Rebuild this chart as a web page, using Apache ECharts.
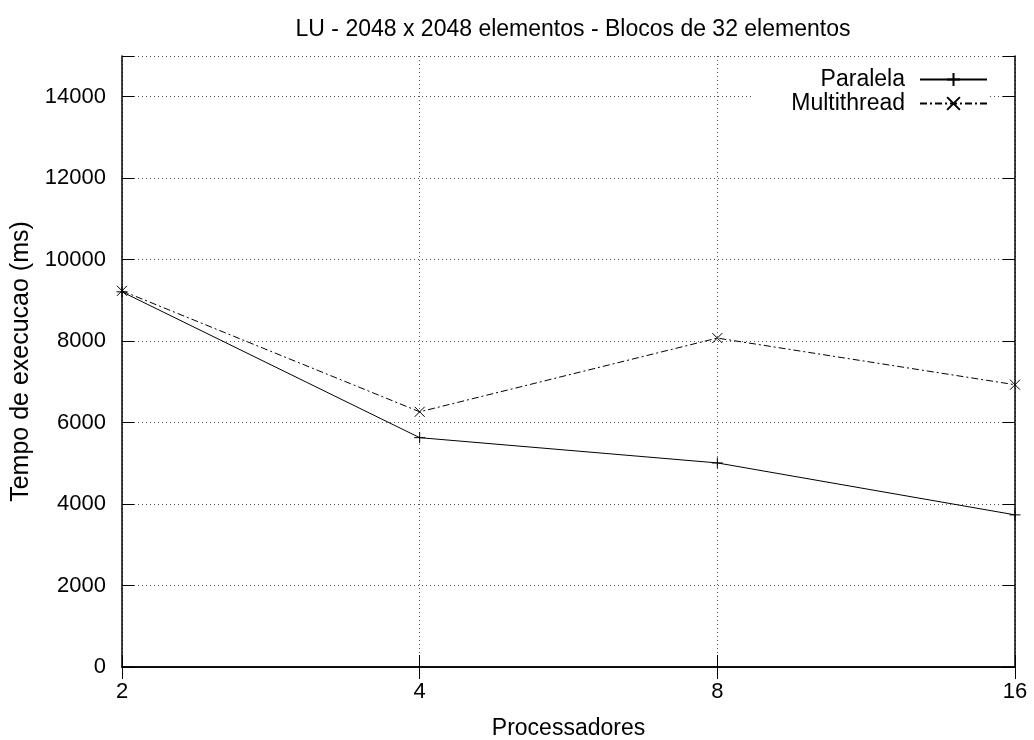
<!DOCTYPE html>
<html>
<head>
<meta charset="utf-8">
<script src="https://cdn.jsdelivr.net/npm/echarts@6/dist/echarts.min.js"></script>
<style>
  html, body { margin: 0; padding: 0; background: #fff; }
  #chart { width: 1034px; height: 740px; }
</style>
</head>
<body>
<div id="chart"></div>
<script>
// Processor counts on the x axis
const processadores = ['2', '4', '8', '16'];
// Execution times (ms)
const paralela = [9210, 5630, 5010, 3735];
const multithread = [9235, 6265, 8075, 6930];

const FONT = 'Liberation Sans, Arial, Helvetica, sans-serif';
const FS = 23;
const TICK_FS = 22;
const PLUS = 'path://M0,5L10,5M5,0L5,10';
const CROSS = 'path://M0,0L10,10M10,0L0,10';

const chart = echarts.init(document.getElementById('chart'));

const gridDots = { show: true, lineStyle: { color: '#555', type: [1, 3], width: 1 } };
const axisLine = { show: true, lineStyle: { color: '#000', width: 1.5 } };
const tickIn = { show: true, inside: true, length: 12, lineStyle: { color: '#000', width: 1 } };
const legendText = { fontFamily: FONT, fontSize: FS, color: '#000', padding: [0, 10, 0, 0] };

chart.setOption({
  animation: false,
  backgroundColor: '#fff',
  title: {
    text: 'LU - 2048 x 2048 elementos - Blocos de 32 elementos',
    left: 568, textAlign: 'center', top: 13,
    textStyle: { fontFamily: FONT, fontSize: FS, fontWeight: 'normal', color: '#000' }
  },
  legend: [
    {
      data: ['Paralela'], orient: 'vertical', align: 'right',
      right: 46, top: 66, itemWidth: 67, itemHeight: 16,
      backgroundColor: '#fff', padding: [2, 0, 2, 40],
      textStyle: legendText
    },
    {
      data: ['Multithread'], orient: 'vertical', align: 'right',
      right: 46, top: 90, itemWidth: 67, itemHeight: 16,
      backgroundColor: '#fff', padding: [2, 0, 2, 40],
      textStyle: legendText
    }
  ],
  grid: { left: 122, right: 19, top: 56, bottom: 73, containLabel: false, outerBoundsMode: 'none' },
  xAxis: [
    {
      type: 'category', data: processadores, boundaryGap: false,
      name: 'Processadores', nameLocation: 'middle', nameGap: 50,
      nameTextStyle: { fontFamily: FONT, fontSize: FS, color: '#000' },
      axisLine: axisLine, axisTick: tickIn,
      axisLabel: { fontFamily: FONT, fontSize: TICK_FS, color: '#000', margin: 14 },
      splitLine: gridDots
    },
    {
      type: 'category', data: processadores, boundaryGap: false, position: 'top',
      axisLine: axisLine, axisTick: tickIn, axisLabel: { show: false }, splitLine: { show: false }
    }
  ],
  yAxis: [
    {
      type: 'value', min: 0, max: 15000, interval: 2000,
      name: 'Tempo de execucao (ms)', nameLocation: 'middle', nameGap: 88, nameRotate: 90,
      nameTextStyle: { fontFamily: FONT, fontSize: 25, color: '#000' },
      axisLine: axisLine, axisTick: tickIn,
      axisLabel: {
        fontFamily: FONT, fontSize: TICK_FS, color: '#000', margin: 16,
        formatter: v => (v % 2000 === 0 ? String(v) : '')
      },
      splitLine: gridDots
    },
    {
      type: 'value', min: 0, max: 15000, interval: 2000, position: 'right',
      axisLine: axisLine, axisTick: tickIn, axisLabel: { show: false }, splitLine: { show: false }
    }
  ],
  series: [
    {
      name: 'Paralela', type: 'line', data: paralela,
      symbol: PLUS, symbolSize: 11, showAllSymbol: true,
      lineStyle: { color: '#000', width: 1, type: 'solid' },
      itemStyle: { color: 'none', borderColor: '#000', borderWidth: 1 },
      z: 3
    },
    {
      name: 'Multithread', type: 'line', data: multithread,
      symbol: CROSS, symbolSize: 10, showAllSymbol: true,
      lineStyle: { color: '#000', width: 1, type: [7, 3, 2, 3] },
      itemStyle: { color: 'none', borderColor: '#000', borderWidth: 1 },
      z: 3
    }
  ]
});
</script>
</body>
</html>
